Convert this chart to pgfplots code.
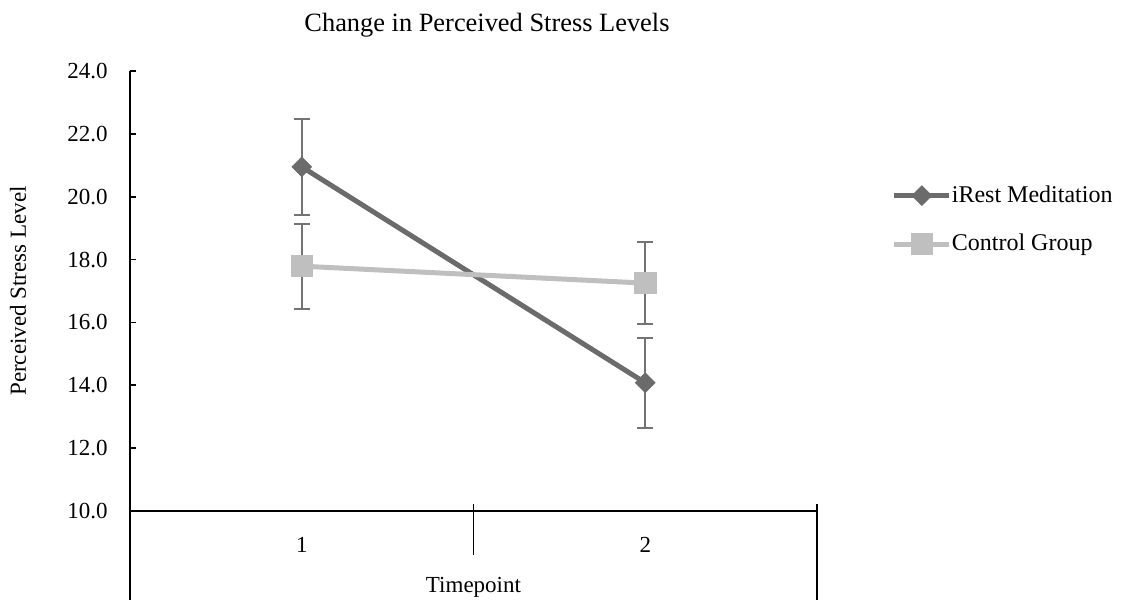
\documentclass[border=0pt]{standalone}
\usepackage{pgfplots}
\pgfplotsset{compat=1.18}
\usepackage{fontspec}
\setmainfont{Liberation Serif}
\definecolor{irest}{HTML}{6B6B6B}
\definecolor{ctrl}{HTML}{BFBFBF}
\definecolor{errc}{HTML}{737373}
\begin{document}
\fontsize{11.5}{13.8}\selectfont
\begin{tikzpicture}
\useasboundingbox (0,0) rectangle (562.5pt,300pt);
\begin{axis}[
  at={(65pt,44.5pt)}, anchor=south west,
  scale only axis, width=343.5pt, height=220pt,
  clip=false,
  xmin=0.5, xmax=2.5, ymin=10, ymax=24,
  ytick={10,12,...,24}, xtick={1,2},
  axis x line*=bottom, axis y line*=left,
  axis line style={line width=0.85pt, black},
  tick style={line width=0.85pt, black},
  ytick align=inside, major tick length=3pt,
  x tick style={draw=none},
  /pgf/number format/assume math mode=true,
  y tick label style={/pgf/number format/fixed, /pgf/number format/fixed zerofill, /pgf/number format/precision=1},
  every tick label/.append style={font=\fontsize{11.5}{13.8}\selectfont},
  yticklabel style={anchor=east, inner sep=0pt, xshift=-11pt},
  xticklabel style={anchor=base, inner sep=0pt, yshift=-20.5pt},
  xlabel={Timepoint},
  xlabel style={at={(rel axis cs:0.5,0)}, anchor=base, inner sep=0pt, yshift=-41pt, font=\fontsize{11.5}{13.8}\selectfont},
  ylabel={Perceived Stress Level},
  ylabel style={at={(axis description cs:-0.163,0.5)}, anchor=center, font=\fontsize{11.5}{13.8}\selectfont},
  title={Change in Perceived Stress Levels},
  title style={at={(rel axis cs:0.5,1)}, anchor=base, inner sep=0pt, yshift=13.5pt, xshift=6.75pt, font=\fontsize{13.2}{15.8}\selectfont},
  legend style={at={(rel axis cs:1.109,0.661)}, anchor=west, draw=none, fill=none,
    inner sep=0pt, outer sep=0pt, row sep=13.9pt, font=\fontsize{12}{14.4}\selectfont,
    nodes={inner sep=0pt}},
  legend cell align=left,
  legend image code/.code={\draw[mark repeat=2, mark phase=2, #1] plot coordinates {(0pt,0pt) (13.75pt,0pt) (27.5pt,0pt)};},
  error bars/error bar style={errc, line width=1pt},
  error bars/error mark options={rotate=90, mark size=4pt, errc, line width=1pt},
]
\addplot[irest, line width=2.5pt, mark=square*, mark size=3.5pt,
  mark options={rotate=45, fill=irest, draw=irest, line width=0.3pt},
  error bars/.cd, y dir=both, y explicit]
  coordinates {(1,20.95) +- (0,1.52) (2,14.08) +- (0,1.43)};
\addlegendentry{iRest Meditation}
\addplot[ctrl, line width=2.5pt, mark=square*, mark size=5.3pt,
  mark options={fill=ctrl, draw=ctrl, line width=0.3pt},
  error bars/.cd, y dir=both, y explicit]
  coordinates {(1,17.79) +- (0,1.35) (2,17.25) +- (0,1.30)};
\addlegendentry{Control Group}
\draw[black, line width=0.85pt] (axis cs:0.5,10) -- ++(0pt,-44.5pt);
\draw[black, line width=0.85pt] (axis cs:1.5,10) ++(0pt,3.5pt) -- ++(0pt,-25.5pt);
\draw[black, line width=0.85pt] (axis cs:2.5,10) ++(0pt,3.5pt) -- ++(0pt,-48pt);
\end{axis}
\end{tikzpicture}
\end{document}
